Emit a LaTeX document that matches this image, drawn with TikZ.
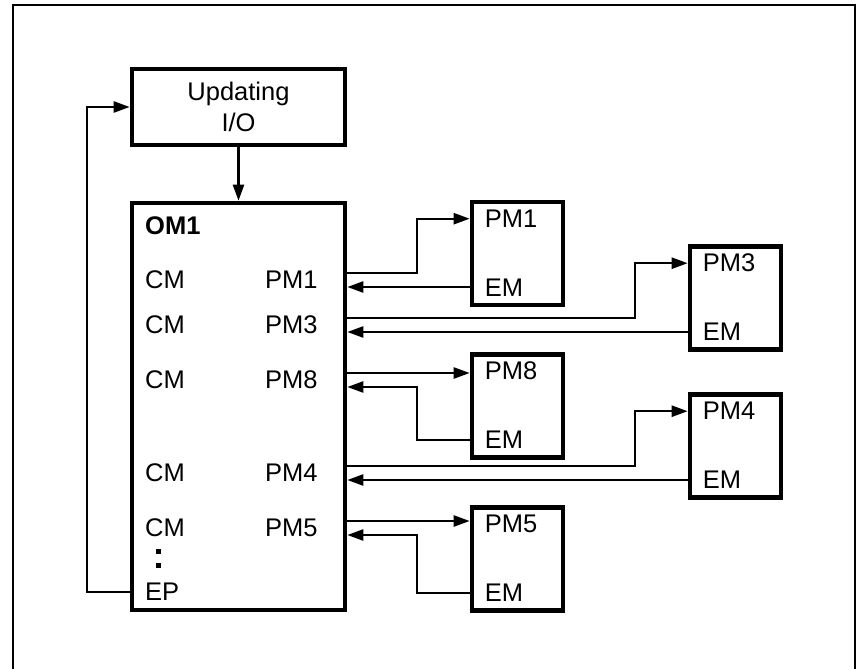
\documentclass[tikz,border=0pt]{standalone}
\usepackage{fontspec}
\setmainfont{Liberation Sans}
\usepackage{tikz}
\usetikzlibrary{arrows.meta, positioning, calc}
\tikzset{
  blk/.style={draw, line width=4.6pt, inner sep=0pt},
  pmbox/.style={blk, minimum width=91pt, minimum height=103pt},
  conn/.style={line width=2.4pt, -{Triangle[length=16pt, width=11pt]}},
  lbl/.style={anchor=west, inner sep=0pt}
}

\begin{document}
\begin{tikzpicture}[x=1pt, y=-1pt, font=\fontsize{25.5}{31}\selectfont]
  \def\bend{53}
  \useasboundingbox (0,0) rectangle (857,669);
  % --- outer frame (runs off the bottom of the page) ---
  \draw[line width=2.6pt] (13,680) -- (13,5) -- (855,5) -- (855,680);
  % --- updating block and the big OM1 block ---
  \node[blk, minimum width=213pt, minimum height=76pt, align=center] (upd) at (238.5,107) {Updating\\I/O};
  \node[blk, minimum width=213pt, minimum height=407pt] (om) at (238.5,406.5) {};
  \node[lbl, font=\fontsize{25.5}{31}\selectfont\bfseries] (omt) at (145,226) {OM1};
  \foreach \n/\y in {1/280, 3/325, 8/380, 4/473, 5/528}{
    \node[lbl] (cm\n) at (145,\y) {CM};
    \node[lbl] (pm\n) at (265,\y) {PM\n};
    \coordinate (o\n) at ($(om.east |- pm\n)+(0,-7)$);
    \coordinate (i\n) at ($(om.east |- pm\n)+(0,7)$);
  }
  \foreach \y in {551,565}
    \fill (156,\y-2.5) rectangle (161,\y+2.5);
  \node[lbl] (ep) at (145,592) {EP};
  % --- the five PM modules, each with its PM / EM labels ---
  \foreach \n/\x/\y in {1/517.5/253.5, 3/735.5/298, 8/517.5/406, 4/735.5/446, 5/517.5/559}{
    \node[pmbox] (b\n) at (\x,\y) {};
    \node[lbl] (t\n) at ($(b\n.north west)+(15,19)$) {PM\n};
    \node[lbl] (e\n) at ($(b\n.south west)+(15,-20)$) {EM};
  }
  % --- connectors ---
  \draw[conn] (upd) -- (om);
  \draw[conn] (om.west |- ep) -| ($(upd.west)+(-43,0)$) -- (upd.west);
  % bent outgoing lines (PM1, PM3, PM4)
  \foreach \n in {1,3,4}{
    \draw[conn] (o\n) -| ($(b\n.west |- t\n)+(-\bend,0)$) -- (b\n.west |- t\n);
    \draw[conn] (b\n.west |- i\n) -- (i\n);
  }
  % straight outgoing, bent return (PM8, PM5)
  \foreach \n in {8,5}{
    \draw[conn] (o\n) -- (b\n.west |- o\n);
    \draw[conn] (b\n.west |- e\n) -| ($(b\n.west |- i\n)+(-\bend,0)$) -- (i\n);
  }
\end{tikzpicture}
\end{document}
